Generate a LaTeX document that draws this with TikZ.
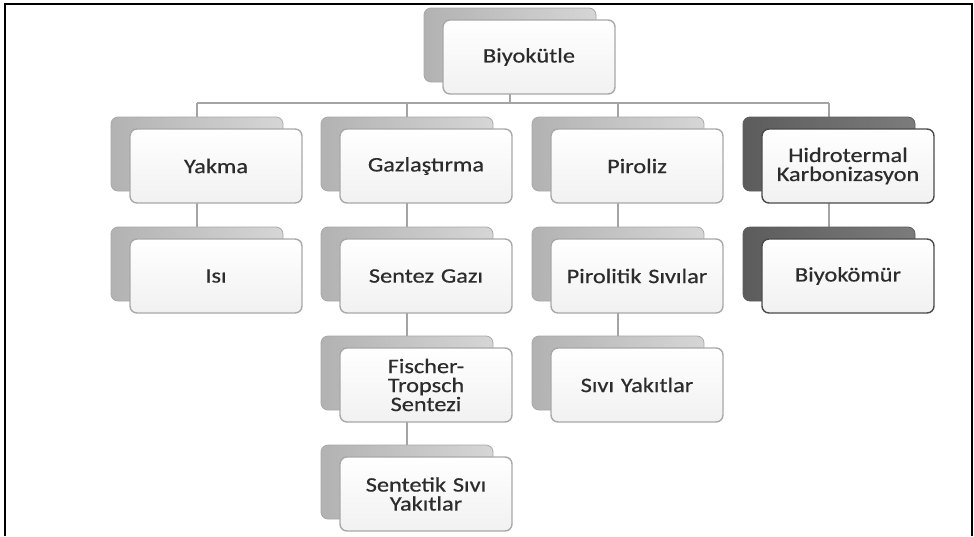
\documentclass[tikz,border=0pt]{standalone}
\usepackage{fontspec}
\setmainfont[FakeStretch=1.18,FakeBold=0.6]{Carlito}
\usetikzlibrary{backgrounds}

\definecolor{inktext}{HTML}{2C2C2C}
\definecolor{linkgray}{HTML}{A4A4A4}
\definecolor{edgegray}{HTML}{A8A8A8}
\definecolor{backlo}{HTML}{B2B2B2}
\definecolor{backhi}{HTML}{D6D6D6}
\definecolor{darklo}{HTML}{5C5C5C}
\definecolor{darkhi}{HTML}{7C7C7C}
\definecolor{darkedge}{HTML}{4A4A4A}
\definecolor{cardtop}{HTML}{FFFFFF}
\definecolor{cardbot}{HTML}{F1F1F1}

\tikzset{
  cardbase/.style={rectangle, rounded corners=7pt, minimum width=172pt,
    minimum height=74pt, inner sep=0pt, align=center, text width=160pt},
  backcard/.style={cardbase, draw=edgegray, line width=0.8pt,
    left color=backlo, right color=backhi},
  darkback/.style={cardbase, draw=darklo, line width=0.8pt,
    left color=darklo, right color=darkhi},
  frontcard/.style={cardbase, draw=edgegray, line width=1.4pt,
    top color=cardtop, bottom color=cardbot, text=inktext,
    font=\fontsize{20.6pt}{19pt}\selectfont},
  darkfront/.style={frontcard, draw=darkedge},
  link/.style={draw=linkgray, line width=1.5pt},
  frame/.style={draw=black, line width=2pt}
}

% #1 name, #2/#3 centre of the front card, #4 text, #5 back style, #6 front style
\newcommand{\cardpair}[6]{%
  \node[#5] (#1-b) at ({#2-19},{#3-12}) {};
  \node[#6] (#1) at (#2,#3) {#4};
}

\begin{document}
\begin{tikzpicture}[x=1pt,y=-1pt]
  \useasboundingbox (0,0) rectangle (974,536);

  % outer frame (open at the bottom)
  \draw[frame] (5,536) -- (5,4) -- (972,4) -- (972,536);

  % root
  \cardpair{bio}{529}{57}{Biyokütle}{backcard}{frontcard}

  % first level
  \cardpair{yakma}{216}{166}{Yakma}{backcard}{frontcard}
  \cardpair{gaz}{426}{166}{Gazlaştırma}{backcard}{frontcard}
  \cardpair{piro}{637}{166}{Piroliz}{backcard}{frontcard}
  \cardpair{hidro}{848}{166}{Hidrotermal\\Karbonizasyon}{darkback}{darkfront}

  % second level
  \cardpair{isi}{216}{276}{Isı}{backcard}{frontcard}
  \cardpair{sentez}{426}{276}{Sentez Gazı}{backcard}{frontcard}
  \cardpair{pirosivi}{637}{276}{Pirolitik Sıvılar}{backcard}{frontcard}
  \cardpair{biyokomur}{848}{276}{Biyokömür}{darkback}{darkfront}

  % third level
  \cardpair{fischer}{426}{385}{Fischer-\\Tropsch\\Sentezi}{backcard}{frontcard}
  \cardpair{sivi}{637}{385}{Sıvı Yakıtlar}{backcard}{frontcard}

  % fourth level
  \cardpair{sentetik}{426}{494}{Sentetik Sıvı\\Yakıtlar}{backcard}{frontcard}

  \coordinate (bus) at (0,103);

  \begin{pgfonlayer}{background}
    \draw[link] (bio-b.center) -- (bio-b.center |- bus);
    \draw[link] (yakma-b.center |- bus) -- (hidro-b.center |- bus);
    \foreach \n in {yakma,gaz,piro,hidro}
      \draw[link] (\n-b.center |- bus) -- (\n-b.center);
    \draw[link] (yakma-b.center) -- (isi-b.center);
    \draw[link] (gaz-b.center) -- (sentez-b.center);
    \draw[link] (sentez-b.center) -- (fischer-b.center);
    \draw[link] (fischer-b.center) -- (sentetik-b.center);
    \draw[link] (piro-b.center) -- (pirosivi-b.center);
    \draw[link] (pirosivi-b.center) -- (sivi-b.center);
    \draw[link] (hidro-b.center) -- (biyokomur-b.center);
  \end{pgfonlayer}
\end{tikzpicture}
\end{document}
